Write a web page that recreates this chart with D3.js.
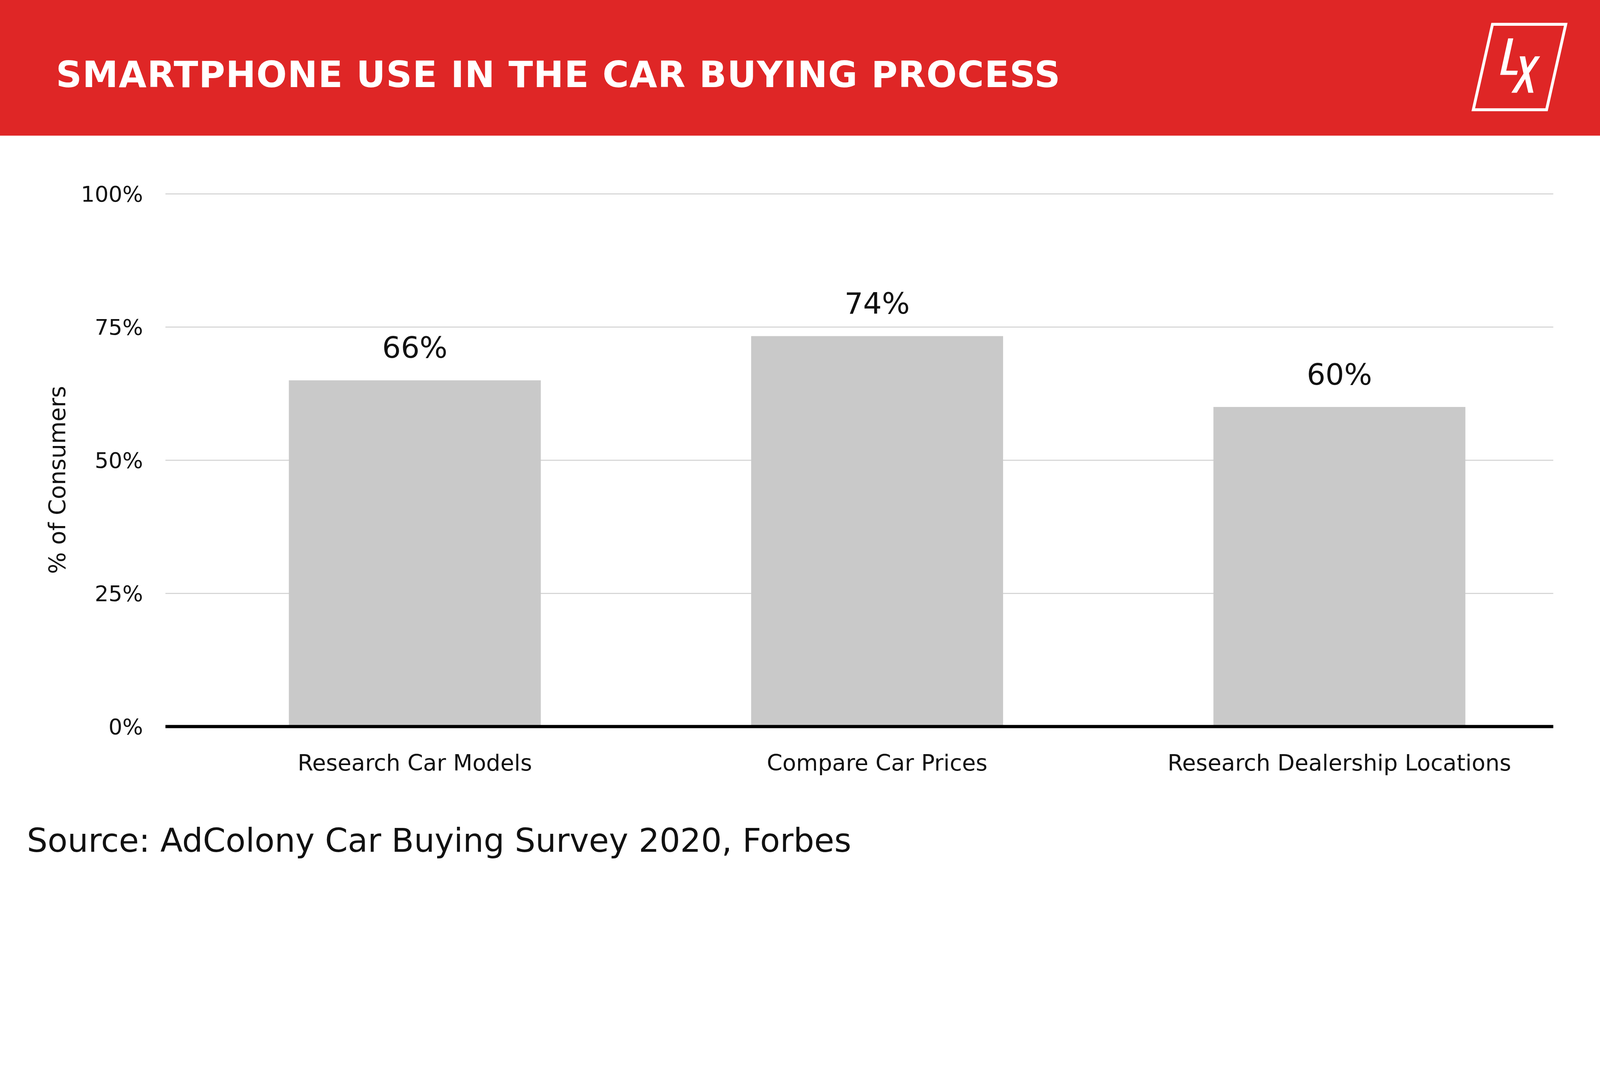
<!DOCTYPE html>
<html><head><meta charset="utf-8">
<script src="https://cdn.jsdelivr.net/npm/d3@7"></script>
<style>html,body{margin:0;background:#fff;overflow:hidden}svg{display:block;width:100vw;height:100vh}</style>
</head><body>
<svg viewBox="0 0 5000 2727" preserveAspectRatio="xMinYMin meet"></svg>
<script>
var categories = ["Research Car Models", "Compare Car Prices", "Research Dealership Locations"];
var values = [65, 73.3, 60];
var valueLabels = ["66%", "74%", "60%"];
var yTicks = [0, 25, 50, 75, 100];

var font = "'DejaVu Sans', sans-serif";
var svg = d3.select("svg");

// header band
svg.append("rect").attr("width", 5000).attr("height", 424).attr("fill", "#df2626");
svg.append("text").attr("x", 175).attr("y", 272)
  .attr("font-family", font).attr("font-weight", "bold").attr("font-size", 112)
  .attr("letter-spacing", 2).attr("fill", "#fff").text("SMARTPHONE USE IN THE CAR BUYING PROCESS");

// logo
svg.append("polygon").attr("points", "4664,76 4893,76 4833,343 4604,343")
  .attr("fill", "none").attr("stroke", "#fff").attr("stroke-width", 9);
svg.append("path").attr("d", "M4713,120 L4729,120 L4707,221 L4743,221 L4740,234 L4688,234 Z").attr("fill", "#fff");
svg.append("path").attr("d", "M4749,176 L4766,176 L4773,212 L4797,176 L4813,176 L4778,229 L4792,290 L4776,290 L4766,247 L4740,290 L4723,290 L4761,230 Z").attr("fill", "#fff");

var x = d3.scaleBand().domain(categories).range([574, 4908]).paddingInner(0.455).paddingOuter(0.2275);
var y = d3.scaleLinear().domain([0, 100]).range([2271, 606]);

// gridlines
svg.append("g").selectAll("line").data(yTicks).join("line")
  .attr("x1", 517).attr("x2", 4854).attr("y1", d => y(d)).attr("y2", d => y(d))
  .attr("stroke", "#d0d0d0").attr("stroke-width", 3);

svg.append("g").selectAll("text").data(yTicks).join("text")
  .attr("x", 447).attr("y", d => y(d) + 24).attr("text-anchor", "end")
  .attr("font-family", font).attr("font-size", 68).attr("fill", "#111")
  .text(d => d + "%");

// bars
svg.append("g").selectAll("rect").data(values).join("rect")
  .attr("x", (d, i) => x(categories[i])).attr("width", x.bandwidth())
  .attr("y", d => y(d)).attr("height", d => y(0) - y(d)).attr("fill", "#c9c9c9");

svg.append("g").selectAll("text").data(values).join("text")
  .attr("x", (d, i) => x(categories[i]) + x.bandwidth() / 2).attr("y", d => y(d) - 70)
  .attr("text-anchor", "middle").attr("font-family", font).attr("font-size", 92).attr("fill", "#111")
  .text((d, i) => valueLabels[i]);

// baseline
svg.append("line").attr("x1", 517).attr("x2", 4854).attr("y1", y(0)).attr("y2", y(0))
  .attr("stroke", "#000").attr("stroke-width", 10);

svg.append("g").selectAll("text").data(categories).join("text")
  .attr("x", d => x(d) + x.bandwidth() / 2).attr("y", 2408).attr("text-anchor", "middle")
  .attr("font-family", font).attr("font-size", 70).attr("fill", "#111").text(d => d);

svg.append("text").attr("transform", "translate(204,1500) rotate(-90)").attr("text-anchor", "middle")
  .attr("font-family", font).attr("font-size", 72).attr("fill", "#111").text("% of Consumers");

svg.append("text").attr("x", 84).attr("y", 2662)
  .attr("font-family", font).attr("font-size", 102).attr("fill", "#111")
  .text("Source: AdColony Car Buying Survey 2020, Forbes");
</script>
</body></html>
